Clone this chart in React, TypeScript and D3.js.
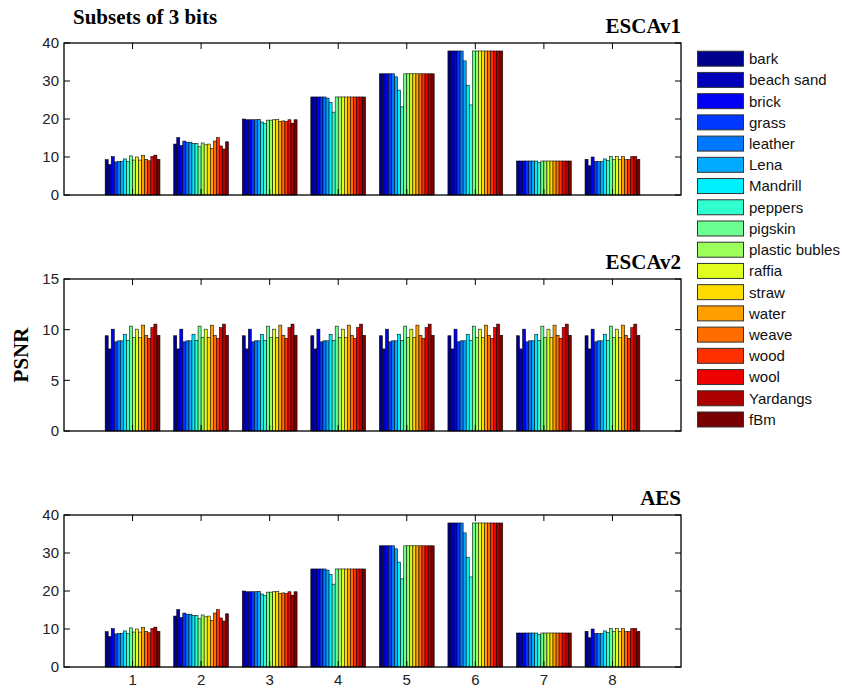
import React, { useEffect, useRef } from 'react'
import * as d3 from 'd3'

// textures (one bar per texture in every group)
const textures = [
  'bark', 'beach sand', 'brick', 'grass', 'leather', 'Lena', 'Mandrill', 'peppers', 'pigskin',
  'plastic bubles', 'raffia', 'straw', 'water', 'weave', 'wood', 'wool', 'Yardangs', 'fBm',
]

const textureColors = [
  '#00008c', '#0000b8', '#0000f2', '#0038ff', '#0078ff', '#00aaff', '#00efff', '#30ffd0', '#6cff92',
  '#9cff5c', '#e0ff20', '#ffdc00', '#ffa000', '#ff6c00', '#ff3000', '#ec0000', '#aa0000', '#780000',
]

const groups = ['1', '2', '3', '4', '5', '6', '7', '8']

// PSNR per group (rows) and texture (columns)
const escav1Values = [
  [9.3, 8.0, 10.1, 8.7, 8.8, 8.9, 9.5, 8.8, 10.3, 9.2, 10.0, 9.2, 10.4, 9.4, 9.0, 10.1, 10.5, 9.4],
  [13.4, 15.1, 13.0, 14.2, 13.9, 13.9, 13.5, 13.5, 12.7, 13.7, 13.2, 13.4, 12.3, 14.2, 15.1, 12.9, 12.1, 14.0],
  [20.0, 19.8, 19.8, 19.8, 19.8, 19.9, 19.2, 18.8, 19.7, 19.7, 19.8, 19.9, 19.4, 19.5, 19.3, 19.8, 18.9, 19.8],
  [25.8, 25.8, 25.8, 25.8, 25.8, 25.5, 24.3, 21.8, 25.8, 25.8, 25.8, 25.8, 25.8, 25.8, 25.8, 25.8, 25.8, 25.8],
  [31.9, 31.9, 31.9, 31.9, 31.9, 31.1, 27.6, 23.2, 31.9, 31.9, 31.9, 31.9, 31.9, 31.9, 31.9, 31.9, 31.9, 31.9],
  [37.9, 37.9, 37.9, 37.9, 37.9, 35.3, 28.9, 23.7, 37.9, 37.9, 37.9, 37.9, 37.9, 37.9, 37.9, 37.9, 37.9, 37.9],
  [8.95, 8.95, 8.95, 8.95, 8.95, 8.95, 8.95, 8.5, 8.95, 8.95, 8.95, 8.95, 8.95, 8.95, 8.95, 8.95, 8.95, 8.95],
  [9.4, 7.7, 10.0, 8.8, 8.8, 8.8, 9.5, 9.1, 10.1, 9.3, 10.1, 9.3, 10.1, 9.3, 9.3, 10.1, 10.1, 9.4],
]

const escav2Values = [
  [9.4, 8.1, 10.05, 8.8, 8.9, 8.9, 9.55, 8.95, 10.35, 9.25, 10.05, 9.25, 10.45, 9.45, 9.15, 10.2, 10.55, 9.45],
  [9.4, 8.1, 10.05, 8.8, 8.9, 8.9, 9.55, 8.95, 10.35, 9.25, 10.05, 9.25, 10.45, 9.45, 9.15, 10.2, 10.55, 9.45],
  [9.4, 8.1, 10.05, 8.8, 8.9, 8.9, 9.55, 8.95, 10.35, 9.25, 10.05, 9.25, 10.45, 9.45, 9.15, 10.2, 10.55, 9.45],
  [9.4, 8.1, 10.05, 8.8, 8.9, 8.9, 9.55, 8.95, 10.35, 9.25, 10.05, 9.25, 10.45, 9.45, 9.15, 10.2, 10.55, 9.45],
  [9.4, 8.1, 10.05, 8.8, 8.9, 8.9, 9.55, 8.95, 10.35, 9.25, 10.05, 9.25, 10.45, 9.45, 9.15, 10.2, 10.55, 9.45],
  [9.4, 8.1, 10.05, 8.8, 8.9, 8.9, 9.55, 8.95, 10.35, 9.25, 10.05, 9.25, 10.45, 9.45, 9.15, 10.2, 10.55, 9.45],
  [9.4, 8.1, 10.05, 8.8, 8.9, 8.9, 9.55, 8.95, 10.35, 9.25, 10.05, 9.25, 10.45, 9.45, 9.15, 10.2, 10.55, 9.45],
  [9.4, 8.1, 10.05, 8.8, 8.9, 8.9, 9.55, 8.95, 10.35, 9.25, 10.05, 9.25, 10.45, 9.45, 9.15, 10.2, 10.55, 9.45],
]

const aesValues = [
  [9.3, 8.0, 10.1, 8.7, 8.8, 8.9, 9.5, 8.8, 10.3, 9.2, 10.0, 9.2, 10.4, 9.4, 9.0, 10.1, 10.5, 9.4],
  [13.4, 15.1, 13.0, 14.2, 13.9, 13.9, 13.5, 13.5, 12.7, 13.7, 13.2, 13.4, 12.3, 14.2, 15.1, 12.9, 12.1, 14.0],
  [20.0, 19.8, 19.8, 19.8, 19.8, 19.9, 19.2, 18.8, 19.7, 19.7, 19.8, 19.9, 19.4, 19.5, 19.3, 19.8, 18.9, 19.8],
  [25.8, 25.8, 25.8, 25.8, 25.8, 25.5, 24.3, 21.8, 25.8, 25.8, 25.8, 25.8, 25.8, 25.8, 25.8, 25.8, 25.8, 25.8],
  [31.9, 31.9, 31.9, 31.9, 31.9, 31.1, 27.6, 23.2, 31.9, 31.9, 31.9, 31.9, 31.9, 31.9, 31.9, 31.9, 31.9, 31.9],
  [37.9, 37.9, 37.9, 37.9, 37.9, 35.3, 28.9, 23.7, 37.9, 37.9, 37.9, 37.9, 37.9, 37.9, 37.9, 37.9, 37.9, 37.9],
  [8.95, 8.95, 8.95, 8.95, 8.95, 8.95, 8.95, 8.5, 8.95, 8.95, 8.95, 8.95, 8.95, 8.95, 8.95, 8.95, 8.95, 8.95],
  [9.4, 7.7, 10.0, 8.8, 8.8, 8.8, 9.5, 9.1, 10.1, 9.3, 10.1, 9.3, 10.1, 9.3, 9.3, 10.1, 10.1, 9.4],
]

const panels = [
  { title: 'ESCAv1', values: escav1Values, yMax: 40, yTicks: [0, 10, 20, 30, 40] },
  { title: 'ESCAv2', values: escav2Values, yMax: 15, yTicks: [0, 5, 10, 15] },
  { title: 'AES', values: aesValues, yMax: 40, yTicks: [0, 10, 20, 30, 40] },
]

const W = 842
const H = 690
const SANS = '"Liberation Sans", Arial, Helvetica, sans-serif'
const SERIF = '"Liberation Serif", "Times New Roman", serif'

export default function App() {
  const svgRef = useRef<SVGSVGElement>(null)

  useEffect(() => {
    if (!svgRef.current) return
    const svg = d3.select(svgRef.current)
    svg.selectAll('*').remove()

    const left = 64
    const right = 681
    const panelH = 152
    const panelTops = [43, 279, 515]
    const tickLen = 6

    const x = d3.scaleLinear().domain([0, 9]).range([left, right])
    const groupW = 0.8 * (x(1) - x(0))
    const inner = d3.scaleBand<number>()
      .domain(d3.range(textures.length))
      .range([-groupW / 2, groupW / 2])
      .padding(0)

    panels.forEach((p, pi) => {
      const top = panelTops[pi]
      const bottom = top + panelH
      const y = d3.scaleLinear().domain([0, p.yMax]).range([bottom, top])
      const g = svg.append('g')

      // bars
      p.values.forEach((row, gi) => {
        const cx = x(gi + 1)
        g.selectAll(null)
          .data(row)
          .enter()
          .append('rect')
          .attr('x', (_, i) => cx + (inner(i) as number))
          .attr('width', inner.bandwidth())
          .attr('y', d => y(d))
          .attr('height', d => y(0) - y(d))
          .attr('fill', (_, i) => textureColors[i])
          .attr('stroke', '#000')
          .attr('stroke-width', 0.55)
      })

      // ticks (inside, mirrored)
      groups.forEach((_, gi) => {
        const tx = x(gi + 1)
        g.append('line').attr('x1', tx).attr('x2', tx).attr('y1', bottom).attr('y2', bottom - tickLen)
          .attr('stroke', '#000').attr('stroke-width', 1)
        g.append('line').attr('x1', tx).attr('x2', tx).attr('y1', top).attr('y2', top + tickLen)
          .attr('stroke', '#000').attr('stroke-width', 1)
      })
      p.yTicks.forEach(t => {
        const ty = y(t)
        g.append('line').attr('x1', left).attr('x2', left + tickLen).attr('y1', ty).attr('y2', ty)
          .attr('stroke', '#000').attr('stroke-width', 1)
        g.append('line').attr('x1', right).attr('x2', right - tickLen).attr('y1', ty).attr('y2', ty)
          .attr('stroke', '#000').attr('stroke-width', 1)
        g.append('text')
          .attr('x', left - 5)
          .attr('y', ty)
          .attr('dy', '0.36em')
          .attr('text-anchor', 'end')
          .attr('font-family', SANS)
          .attr('font-size', 15)
          .attr('fill', '#222')
          .text(t)
      })

      // box
      g.append('rect')
        .attr('x', left).attr('y', top)
        .attr('width', right - left).attr('height', panelH)
        .attr('fill', 'none').attr('stroke', '#000').attr('stroke-width', 1.3)

      // panel title, right aligned
      g.append('text')
        .attr('x', right)
        .attr('y', top - 10)
        .attr('text-anchor', 'end')
        .attr('font-family', SERIF)
        .attr('font-weight', 'bold')
        .attr('font-size', 21)
        .text(p.title)

      if (pi === panels.length - 1) {
        groups.forEach((lab, gi) => {
          g.append('text')
            .attr('x', x(gi + 1))
            .attr('y', bottom + 18)
            .attr('text-anchor', 'middle')
            .attr('font-family', SANS)
            .attr('font-size', 15)
            .attr('fill', '#222')
            .text(lab)
        })
      }
    })

    // overall title
    svg.append('text')
      .attr('x', 73).attr('y', 24)
      .attr('font-family', SERIF).attr('font-weight', 'bold').attr('font-size', 21)
      .text('Subsets of 3 bits')

    // y label
    svg.append('text')
      .attr('transform', `translate(28,${panelTops[1] + panelH / 2}) rotate(-90)`)
      .attr('text-anchor', 'middle')
      .attr('font-family', SERIF).attr('font-weight', 'bold').attr('font-size', 21)
      .text('PSNR')

    // legend
    const legend = svg.append('g')
    const rowY = d3.scaleLinear().domain([0, textures.length - 1]).range([58.7, 419.5])
    textures.forEach((name, i) => {
      const cy = rowY(i)
      legend.append('rect')
        .attr('x', 697.5).attr('y', cy - 7.5)
        .attr('width', 46).attr('height', 15)
        .attr('fill', textureColors[i])
        .attr('stroke', '#333').attr('stroke-width', 1)
      legend.append('text')
        .attr('x', 749).attr('y', cy)
        .attr('dy', '0.36em')
        .attr('font-family', SANS).attr('font-size', 15)
        .attr('fill', '#111')
        .text(name)
    })
  }, [])

  return (
    <svg
      ref={svgRef}
      width={W}
      height={H}
      style={{ position: 'absolute', left: 0, top: 0, background: '#fff' }}
    />
  )
}
